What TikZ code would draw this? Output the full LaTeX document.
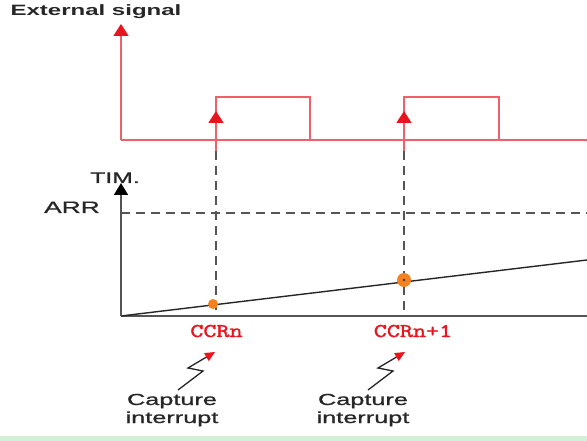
\documentclass[tikz,border=0pt]{standalone}
\usepackage{fontspec}
\setmainfont{Liberation Sans}
\newfontfamily\lblfont[FakeBold=0.8]{Liberation Sans}
\newfontfamily\ccrfont[FakeBold=1.5]{Latin Modern Mono}
\usetikzlibrary{arrows.meta}
\definecolor{sigred}{HTML}{F0606A}
\definecolor{tipred}{HTML}{E8141E}
\definecolor{axgray}{HTML}{555555}
\definecolor{txtdark}{HTML}{262626}
\definecolor{dotorange}{HTML}{F5821F}
\definecolor{stripgreen}{HTML}{D3F0D8}
\tikzset{
  sigline/.style={draw=sigred, line width=1.6pt},
  axisline/.style={draw=axgray, line width=1.8pt},
  dashline/.style={draw=axgray, line width=1.6pt, dash pattern=on 9pt off 6pt},
  ramp/.style={draw=black!85, line width=1.4pt},
  lbl/.style={text=txtdark, inner sep=0pt, anchor=base, xscale=1.6, font=\fontsize{15.5}{18}\lblfont},
  ccr/.style={text=tipred, inner sep=0pt, anchor=base, xscale=1.3, font=\fontsize{19.5}{20}\ccrfont},
  capt/.style={text=txtdark, inner sep=0pt, align=center, xscale=1.58, font=\fontsize{16}{18}\lblfont},
  redtip/.style={-{Triangle[width=15pt,length=12pt,color=tipred]}},
  blacktip/.style={-{Triangle[width=14pt,length=12pt,color=black]}},
  bolt/.style={draw=black!85, line width=1.3pt, -{Triangle[width=9pt,length=10pt,color=tipred]}},
}
\begin{document}
\begin{tikzpicture}[x=1pt,y=-1pt]
\useasboundingbox (0,0) rectangle (587,441);
\fill[stripgreen] (0,436) rectangle (587,441);

% coordinates
\coordinate (sigO) at (121,140);
\coordinate (sigTop) at (121,24);
\coordinate (sigEnd) at (587,140);
\coordinate (p1a) at (216,140);
\coordinate (p1b) at (216,97);
\coordinate (p1c) at (310,97);
\coordinate (p1d) at (310,140);
\coordinate (p2a) at (404,140);
\coordinate (p2b) at (404,97);
\coordinate (p2c) at (499,97);
\coordinate (p2d) at (499,140);
\coordinate (e1low) at (216,151);
\coordinate (e1tip) at (216,111);
\coordinate (e2low) at (404,151);
\coordinate (e2tip) at (404,111);
\coordinate (O) at (121,316);
\coordinate (timTop) at (121,183);
\coordinate (xEnd) at (587,316);
\coordinate (arrL) at (121,213);
\coordinate (arrR) at (587,213);
\coordinate (rampEnd) at (587,260);
\coordinate (d1bot) at (216,316);
\coordinate (d2bot) at (404,316);

% external signal
\draw[sigline] (sigEnd) -- (sigO);
\draw[sigline] (p1a) -- (p1b) -- (p1c) -- (p1d);
\draw[sigline] (p2a) -- (p2b) -- (p2c) -- (p2d);
\draw[sigline, redtip] (sigO) -- (sigTop);
\draw[sigline, redtip] (e1low) -- (e1tip);
\draw[sigline, redtip] (e2low) -- (e2tip);

% counter plot
\draw[dashline] (arrL) -- (arrR);
\draw[dashline] (e1low) -- (d1bot);
\draw[dashline] (e2low) -- (d2bot);
\draw[axisline] (O) -- (xEnd);
\draw[ramp] (O) -- (rampEnd);
\draw[axisline, blacktip] (O) -- (timTop);

\fill[dotorange] (213,304) circle (5);
\fill[dotorange] (404,280) circle (7);
\fill[black!80] (404,280) circle (1.3);

% labels
\node[lbl, font=\fontsize{15}{18}\bfseries] (ext) at (96,16) {External signal};
\node[lbl] (tim) at (115,183) {TIM.};
\node[lbl, font=\fontsize{16.5}{18}\lblfont] (arr) at (72,213) {ARR};
\node[ccr] (c1) at (216.5,337) {CCRn};
\node[ccr] (c2) at (413,337) {CCRn+1};

\node[capt, anchor=base] (cap1) at (172,423) {Capture\\interrupt};
\node[capt, anchor=base] (cap2) at (363,423) {Capture\\interrupt};

\coordinate (b1s) at (178,390);
\coordinate (b1a) at (203,371);
\coordinate (b1b) at (188,368);
\coordinate (b1t) at (215,352);
\coordinate (b2s) at (368,390);
\coordinate (b2a) at (393,371);
\coordinate (b2b) at (378,368);
\coordinate (b2t) at (405,352);
\draw[bolt] (b1s) -- (b1a) -- (b1b) -- (b1t);
\draw[bolt] (b2s) -- (b2a) -- (b2b) -- (b2t);
\end{tikzpicture}
\end{document}
